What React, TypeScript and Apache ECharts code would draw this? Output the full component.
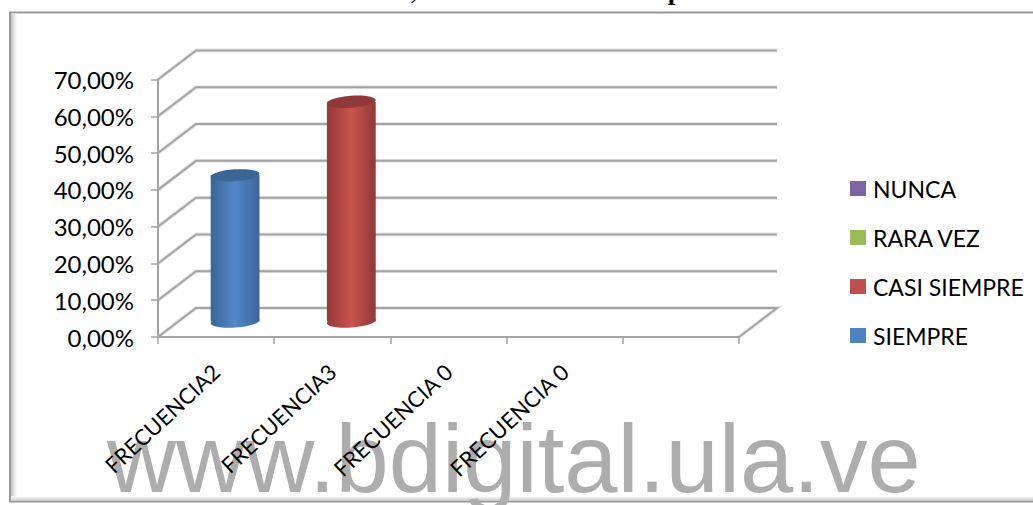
import React, { useEffect, useRef } from "react";
import * as echarts from "echarts";

const categories = ["FRECUENCIA2", "FRECUENCIA3", "FRECUENCIA 0", "FRECUENCIA 0"];
const slots = ["", "", "", "", ""];
const gridValues = [0, 0.1, 0.2, 0.3, 0.4, 0.5, 0.6, 0.7];
const siempre = [[0, 0.4]];
const casiSiempre = [[1, 0.6]];
const rarely: number[][] = [];
const never: number[][] = [];
const legendOrder = ["NUNCA", "RARA VEZ", "CASI SIEMPRE", "SIEMPRE"];
const axisLabels = [...categories, ...slots.slice(4)];

const DX = 38;
const DY = -29;
const LINE = "#a3a3a3";

function wallRender(params: any, api: any) {
  const v = api.value(0);
  const [x0, y] = [params.coordSys.x, api.coord([0, v])[1]];
  const xEnd = params.coordSys.x + params.coordSys.width;
  const pts = [
    [x0, y],
    [x0 + DX, y + DY],
    [xEnd + DX, y + DY],
  ];
  if (v === 0) pts.push([xEnd, y]);
  const style = (stroke: string, lineWidth: number) => ({ fill: "none", stroke, lineWidth });
  return {
    type: "group",
    children: [
      { type: "polyline", shape: { points: pts }, style: style("#e6e6e6", 4) },
      { type: "polyline", shape: { points: pts }, style: style(LINE, 2) },
    ],
  };
}

function cylinder(stops: string[], top: string) {
  return (params: any, api: any) => {
    const p = api.coord([api.value(0), api.value(1)]);
    const b = api.coord([api.value(0), 0]);
    const w = api.size([1, 0])[0] * 0.42;
    const cx = p[0] + DX / 2;
    const ty = p[1] + DY / 2;
    const by = b[1] + DY / 2 - 1;
    const fill = {
      type: "linear", x: 0, y: 0, x2: 1, y2: 0,
      colorStops: [
        { offset: 0, color: stops[0] },
        { offset: 0.5, color: stops[1] },
        { offset: 1, color: stops[2] },
      ],
    };
    const tilt = 0.07;
    return {
      type: "group",
      children: [
        { type: "ellipse", x: cx, y: by, rotation: tilt, shape: { cx: 0, cy: 0, rx: w / 2, ry: 6 }, style: { fill } },
        { type: "rect", shape: { x: cx - w / 2, y: ty, width: w, height: by - ty }, style: { fill } },
        { type: "ellipse", x: cx, y: ty, rotation: tilt, shape: { cx: 0, cy: 0, rx: w / 2, ry: 6 }, style: { fill: top } },
      ],
    };
  };
}

export default function App() {
  const ref = useRef<HTMLDivElement>(null);
  useEffect(() => {
    const chart = echarts.init(ref.current!, undefined, { renderer: "svg" });
    const font = "Lato";
    chart.setOption({
      animation: false,
      backgroundColor: "#fff",
      grid: { left: 158, right: 294, top: 79.5, bottom: 168 },
      xAxis: {
        type: "category",
        data: axisLabels,
        boundaryGap: true,
        z: 6,
        axisLine: { show: true, lineStyle: { color: LINE, width: 2 } },
        axisTick: { show: true, length: 7, alignWithLabel: false, lineStyle: { color: LINE, width: 1.5 } },
        axisLabel: {
          interval: 0, rotate: 43, margin: 31, color: "#000",
          fontFamily: font, fontSize: 22, hideOverlap: false,
        },
      },
      yAxis: {
        type: "value", min: 0, max: 0.7, interval: 0.1, z: 6,
        splitLine: { show: false },
        axisLine: { show: true, lineStyle: { color: LINE, width: 2 } },
        axisTick: { show: true, length: 7, lineStyle: { color: LINE, width: 1.5 } },
        axisLabel: {
          margin: 24, color: "#000", fontFamily: font, fontSize: 24,
          formatter: (v: number) => (v * 100).toFixed(2).replace(".", ",") + "%",
        },
      },
      legend: {
        orient: "vertical", left: 850, top: 177, padding: 0, data: legendOrder, icon: "rect",
        itemWidth: 16, itemHeight: 15, itemGap: 26,
        textStyle: { color: "#000", fontFamily: font, fontSize: 23, padding: [0, 0, 0, 2] },
        selectedMode: false,
      },
      graphic: {
        elements: [
          {
            type: "text", left: 14, top: -24, z: -2,
            style: {
              text: "{n|Comercialización a la Filial del Café, ubicados en el }{b|Municipio Sucre }{n|del Estado Táchira}",
              rich: {
                n: { fontFamily: "Liberation Serif", fontSize: 27, fill: "#000" },
                b: { fontFamily: "Liberation Serif", fontSize: 27, fontWeight: "bold", fill: "#000" },
              },
            },
          },
          {
            type: "rect", z: -2,
            shape: { x: 10, y: 12.5, width: 1040, height: 489 },
            style: { fill: "#fff", stroke: "#989898", lineWidth: 2 },
          },
          {
            type: "rect", z: -2,
            shape: { x: 11, y: 13.5, width: 6, height: 487 },
            style: { fill: { type: "linear", x: 0, y: 0, x2: 1, y2: 0, colorStops: [{ offset: 0, color: "#c4c4c4" }, { offset: 1, color: "#ffffff" }] } },
          },
          {
            type: "rect", z: -2,
            shape: { x: 11, y: 496, width: 1022, height: 5 },
            style: { fill: { type: "linear", x: 0, y: 0, x2: 0, y2: 1, colorStops: [{ offset: 0, color: "#ffffff" }, { offset: 1, color: "#c4c4c4" }] } },
          },
          {
            type: "text", x: 107, y: 506, z: -1,
            style: {
              text: "www.bdigital.ula.ve", fontFamily: "Liberation Sans", fontSize: 95.7,
              fill: "#adadad", textVerticalAlign: "bottom",
            },
          },
        ],
      },
      series: [
        { type: "custom", name: "walls", z: 1, silent: true, data: gridValues.map((v) => [v]), encode: { y: 0 }, renderItem: wallRender },
        { type: "custom", name: "SIEMPRE", z: 3, itemStyle: { color: "#4F81BD" }, data: siempre, encode: { x: 0, y: 1 }, renderItem: cylinder(["#3a6598", "#5487c7", "#3b6698"], "#3a6594") },
        { type: "custom", name: "CASI SIEMPRE", z: 3, itemStyle: { color: "#C0504D" }, data: casiSiempre, encode: { x: 0, y: 1 }, renderItem: cylinder(["#933b39", "#cb5350", "#8e3937"], "#8f3a38") },
        { type: "custom", name: "RARA VEZ", z: 3, itemStyle: { color: "#9BBB59" }, data: rarely, encode: { x: 0, y: 1 }, renderItem: cylinder(["#7a9446", "#9bbb59", "#7a9446"], "#7a9446") },
        { type: "custom", name: "NUNCA", z: 3, itemStyle: { color: "#8064A2" }, data: never, encode: { x: 0, y: 1 }, renderItem: cylinder(["#634e7e", "#8064a2", "#634e7e"], "#634e7e") },
      ],
    });
    return () => chart.dispose();
  }, []);
  return <div ref={ref} style={{ position: "absolute", left: 0, top: 0, width: 1033, height: 505 }} />;
}
